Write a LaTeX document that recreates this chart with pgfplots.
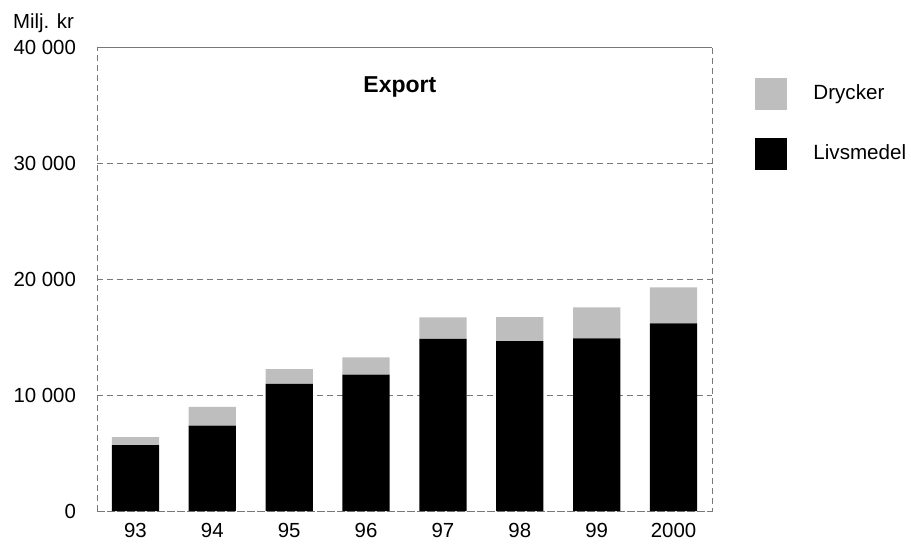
\documentclass[border=0pt]{standalone}
\usepackage{pgfplots}
\pgfplotsset{compat=1.18}
\usepackage{fontspec}
\setmainfont{Liberation Sans}
\definecolor{drgray}{RGB}{190,190,190}
\definecolor{gridgray}{RGB}{120,120,120}
\begin{document}
\begin{tikzpicture}
\useasboundingbox (-48.5pt,-16pt) rectangle (407pt,255.5pt);
\begin{axis}[
  at={(0,0)}, anchor=south west,
  scale only axis, width=307.5pt, height=232pt,
  clip=false,
  ybar stacked, bar width=0.615,
  xmin=-0.5, xmax=7.5, ymin=0, ymax=40000,
  xtick={0,...,7}, xticklabels={93,94,95,96,97,98,99,2000},
  ytick={0,10000,20000,30000,40000},
  yticklabels={0,10 000,20 000,30 000,40 000},
  scaled y ticks=false,
  major tick length=0pt,
  ymajorgrids, grid style={densely dashed, gridgray, line width=0.4pt},
  axis line style={densely dashed, gridgray, line width=0.4pt},
  tick label style={font=\fontsize{10.2}{12}\selectfont},
  yticklabel style={xshift=-7pt},
  xticklabel style={yshift=-2.5pt},
  reverse legend,
  legend style={at={(1.07,0.934)}, anchor=north west, draw=none, fill=none,
    inner sep=0pt, row sep=14pt, font=\fontsize{10.3}{12}\selectfont,
    cells={anchor=west}},
  legend image code/.code={\fill[#1] (0pt,-8pt) rectangle (16pt,8pt);},
  legend cell align=left,
]
\addplot[fill=black, draw=none] coordinates {(0,5690) (1,7350) (2,10950) (3,11750) (4,14830) (5,14650) (6,14890) (7,16180)};
\addlegendentry{\hspace{11pt}Livsmedel}
\addplot[fill=drgray, draw=none] coordinates {(0,690) (1,1620) (2,1290) (3,1500) (4,1870) (5,2070) (6,2670) (7,3100)};
\addlegendentry{\hspace{11pt}Drycker}
\node[font=\bfseries\fontsize{11.5}{13}\selectfont] at (axis cs:3.44,36550) {Export};
\node[anchor=west, font=\fontsize{10.2}{12}\selectfont, inner sep=0pt] at (rel axis cs:-0.137,1.052) {Milj. kr};
\end{axis}
\end{tikzpicture}
\end{document}
